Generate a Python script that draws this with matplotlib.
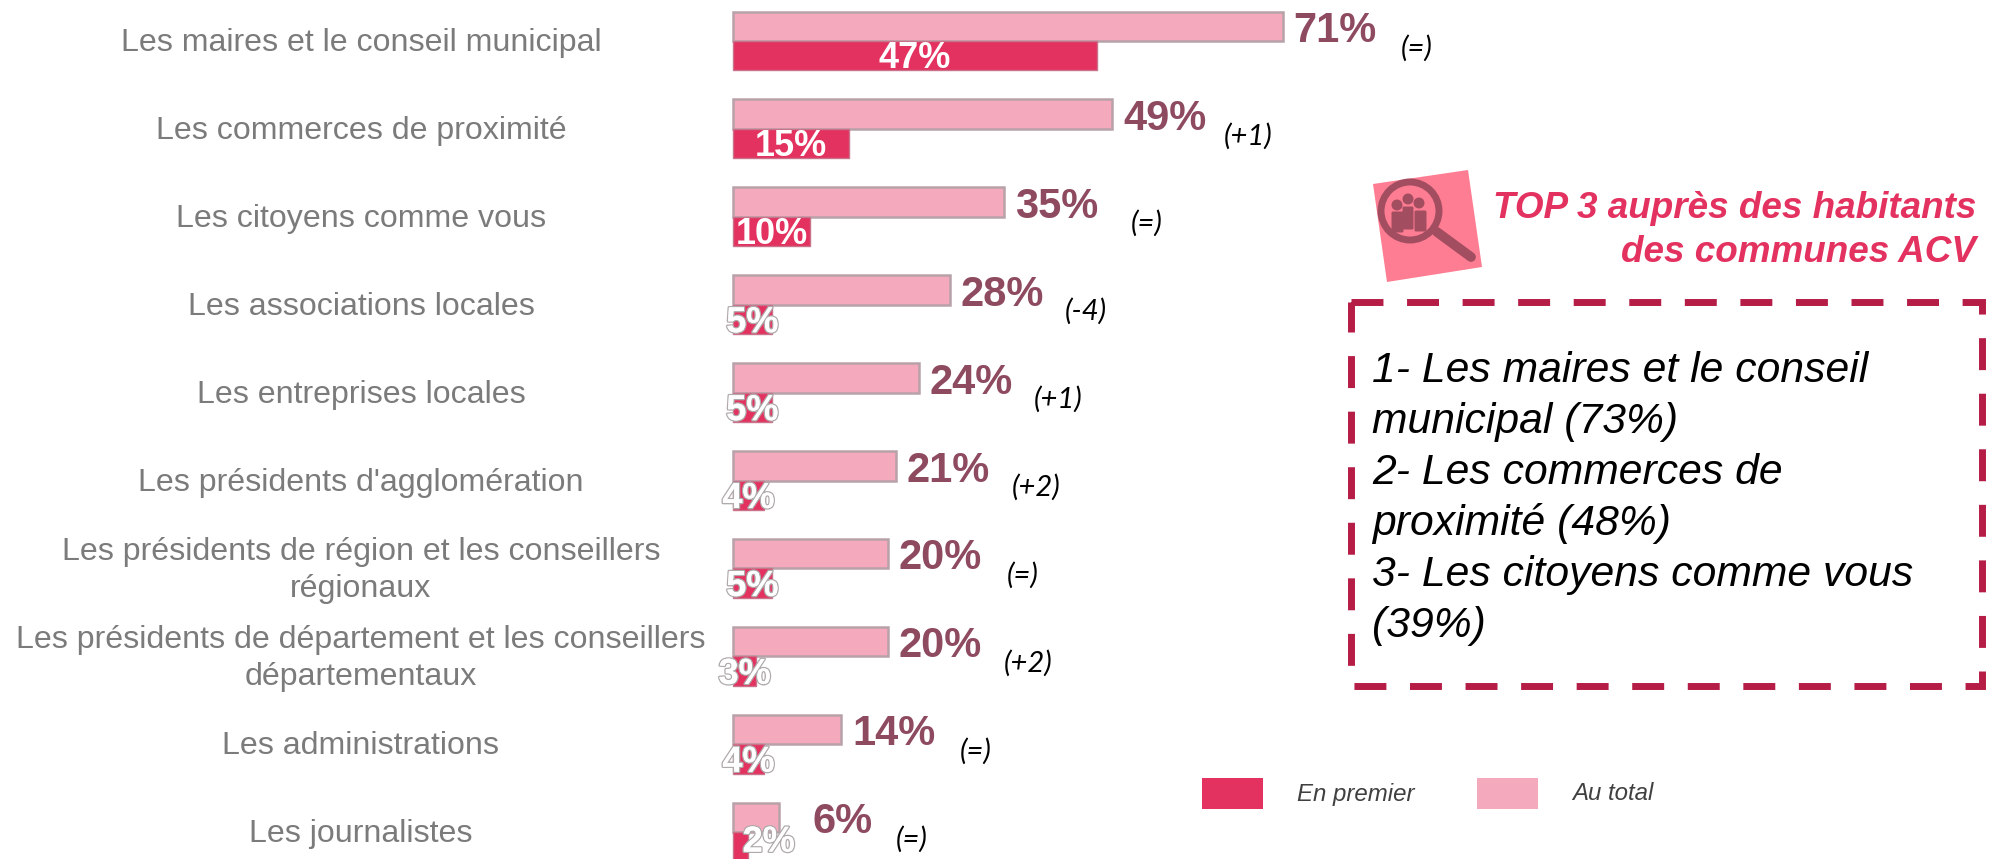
import matplotlib
matplotlib.use('Agg')
import matplotlib.pyplot as plt
import matplotlib.patheffects as pe
from matplotlib.patches import Polygon, Rectangle, Circle, FancyBboxPatch

W, H = 2003, 859

labels = ['Les maires et le conseil municipal', 'Les commerces de proximité', 'Les citoyens comme vous',
          'Les associations locales', 'Les entreprises locales', "Les présidents d'agglomération",
          'Les présidents de région et les conseillers\nrégionaux',
          'Les présidents de département et les conseillers\ndépartementaux',
          'Les administrations', 'Les journalistes']
au_total = [71, 49, 35, 28, 24, 21, 20, 20, 14, 6]
en_premier = [47, 15, 10, 5, 5, 4, 5, 3, 4, 2]
evolution = ['(=)', '(+1)', '(=)', '(-4)', '(+1)', '(+2)', '(=)', '(+2)', '(=)', '(=)']
evolution_x = [1417, 1248, 1147, 1086, 1058, 1036, 1023, 1028, 976, 912]
top3_title = ['TOP 3 auprès des habitants', 'des communes ACV']
top3_lines = ['1- Les maires et le conseil', 'municipal (73%)', '2- Les commerces de',
              'proximité (48%)', '3- Les citoyens comme vous', '(39%)']

plt.rcParams['font.family'] = 'Liberation Sans'
fig = plt.figure(figsize=(W / 100, H / 100), dpi=100)

# bars use real data axes: percent on x, row number on y
px_per_pct = 7.74
x0 = 733
row_h = 87.9
row0 = 41
ax = fig.add_axes([0, 0, 1, 1])
ax.set_xlim(-x0 / px_per_pct, (W - x0) / px_per_pct)
ax.set_ylim((H - row0) / row_h, -row0 / row_h)
ax.axis('off')

rows = list(range(len(labels)))
bar_h = 0.335
ax.barh([r - bar_h / 2 for r in rows], au_total, height=bar_h, color='#f4a9bd', edgecolor='#b8a2a9', linewidth=1.8)
ax.barh([r + bar_h / 2 for r in rows], en_premier, height=bar_h, color='#e3325f', edgecolor='#c9728a', linewidth=1)

# overlay in pixels for text and the box
ov = fig.add_axes([0, 0, 1, 1])
ov.set_xlim(0, W)
ov.set_ylim(H, 0)
ov.axis('off')
ov.patch.set_alpha(0)

for i, lab in enumerate(labels):
    yc = row0 + i * row_h
    ov.text(361, yc + 2, lab, ha='center', va='center', fontsize=23.1, color='#7b7b7b', linespacing=1.3)
    gap = 33 if i == 9 else 11
    ov.text(x0 + au_total[i] * px_per_pct + gap, yc - 10, f'{au_total[i]}%', ha='left', va='center',
            fontsize=30, fontweight='bold', color='#8e4a5e')
    ov.text(evolution_x[i], yc + 7, evolution[i], ha='center', va='center', fontsize=21,
            family='Lato', style='italic', color='black')
    xc = x0 + en_premier[i] * px_per_pct / 2
    dy = 18
    if i == 9:
        xc += 28
        dy = 10
    t = ov.text(xc, yc + dy, f'{en_premier[i]}%', ha='center', va='center', fontsize=26,
                fontweight='bold', color='white')
    if en_premier[i] <= 5:
        t.set_path_effects([pe.withStroke(linewidth=2, foreground='#b0aaac'),
                            pe.Normal()])

# icon
ov.add_patch(Polygon([(1373, 184), (1468, 170), (1482, 267), (1387, 282)], color='#ff7d93', lw=0))
ov.plot([1437, 1471], [232, 257], color='#a34d60', lw=7, solid_capstyle='round')
ov.add_patch(Circle((1410, 211), 29, fill=False, ec='#a34d60', lw=5))
for hx, hy in [(1397, 205), (1408, 199), (1419, 203)]:
    ov.add_patch(Circle((hx, hy), 5.5, color='#a34d60', lw=0))
for bx, by, bw, bh in [(1393, 213, 9, 18), (1404, 208, 8, 20), (1416, 212, 9, 18)]:
    ov.add_patch(FancyBboxPatch((bx, by), bw, bh, boxstyle='round,pad=1.5', color='#a34d60', lw=0))

ov.text(1976, 208, top3_title[0], ha='right', va='center', fontsize=26.6, fontweight='bold',
        style='italic', color='#e3325f')
ov.text(1976, 253, top3_title[1], ha='right', va='center', fontsize=26.6, fontweight='bold',
        style='italic', color='#e3325f')

ov.add_patch(Rectangle((1351, 302), 631, 384, fill=False, ec='#b51c46', lw=5,
                       linestyle=(0, (4.6, 3.4))))
for i, line in enumerate(top3_lines):
    ov.text(1372, 371 + i * 51, line, ha='left', va='center', fontsize=30.7, style='italic', color='black')

# legend
ov.add_patch(Rectangle((1202, 778), 61, 31, color='#e3325f', lw=0))
ov.add_patch(Rectangle((1477, 778), 61, 31, color='#f4a9bd', lw=0))
ov.text(1297, 794, 'En premier', ha='left', va='center', fontsize=17.3, style='italic', color='#404040')
ov.text(1572, 794, 'Au total', ha='left', va='center', fontsize=17.3, style='italic', color='#404040')

fig.savefig('out.png', dpi=100)
